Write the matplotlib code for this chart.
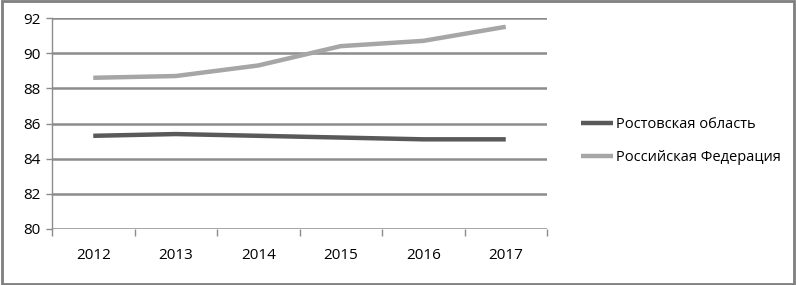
import matplotlib
matplotlib.use("Agg")
import matplotlib.pyplot as plt
from matplotlib.patches import Rectangle

years = ["2012", "2013", "2014", "2015", "2016", "2017"]
rostov = [85.3, 85.4, 85.3, 85.2, 85.1, 85.1]
russia = [88.6, 88.7, 89.3, 90.4, 90.7, 91.5]
yticks = [80, 82, 84, 86, 88, 90, 92]
series_names = ["Ростовская область", "Российская Федерация"]

plt.rcParams['font.family'] = ['Open Sans', 'DejaVu Sans']

fig = plt.figure(figsize=(7.96, 2.85), dpi=100)
ax = fig.add_axes([52/796, 1 - 229/285, (547-52)/796, (229-18)/285])

x = list(range(len(years)))
ax.plot(x, rostov, color="#595959", lw=3.2, solid_capstyle="butt", label=series_names[0], zorder=3)
ax.plot(x, russia, color="#a6a6a6", lw=3.2, solid_capstyle="butt", label=series_names[1], zorder=3)

ax.set_xlim(-0.5, len(years) - 0.5)
ax.set_ylim(80, 92)
ax.set_yticks(yticks)
ax.set_yticklabels([str(v) for v in yticks], fontsize=11)
for v in yticks:
    ax.axhline(v, color="#8c8c8c", lw=1.8, zorder=1)

ax.set_xticks(x)
ax.set_xticklabels(years, fontsize=11)
ax.tick_params(axis="x", length=0, pad=14)
ax.set_xticks([i - 0.5 for i in range(len(years) + 1)], minor=True)
ax.tick_params(axis="x", which="minor", length=5, color="#8c8c8c", width=1)
ax.tick_params(axis="y", length=4, color="#8c8c8c", width=1, pad=4)

for s in ["top", "right", "bottom"]:
    ax.spines[s].set_visible(False)
ax.spines["left"].set_color("#8c8c8c")
ax.spines["left"].set_linewidth(1)

leg = fig.legend(loc="upper left", bbox_to_anchor=(568/796, 1 - 104/285), frameon=False,
                 fontsize=10.5, handlelength=2.2, handletextpad=0.2, labelspacing=1.25)

fig.patches.append(Rectangle((0.002, 0.004), 0.995, 0.991, transform=fig.transFigure,
                             fill=False, edgecolor="#7f7f7f", lw=2))

fig.savefig("out.png", dpi=100)
